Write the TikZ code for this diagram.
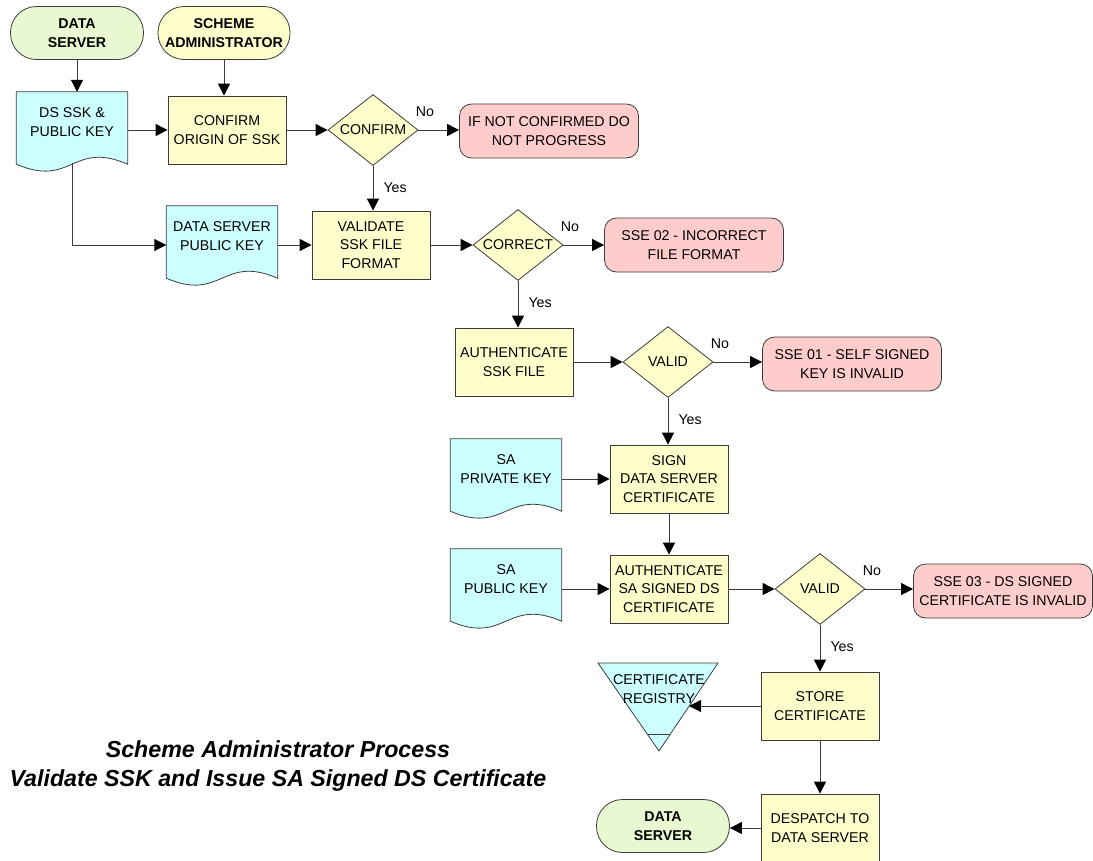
\documentclass[tikz,border=0pt]{standalone}
\usepackage{fontspec}
\setmainfont{Liberation Sans}
\usetikzlibrary{shapes.geometric,arrows.meta,calc,backgrounds}

\definecolor{termgreen}{RGB}{232,248,208}
\definecolor{procyellow}{RGB}{255,255,204}
\definecolor{doccyan}{RGB}{204,255,255}
\definecolor{errpink}{RGB}{255,204,204}
\definecolor{linegrey}{RGB}{60,60,60}

\newcommand{\boxfont}{\fontsize{14.2}{18.7}\selectfont}
\newcommand{\docshape}[1]{%
  \filldraw[docline] (#1.north west) -- (#1.north east)
    -- ($(#1.south east)+(0,12)$)
    .. controls ($(#1.south)+(0,-12)$) and ($(#1.south)+(0,36)$) ..
    ($(#1.south west)+(0,12)$) -- cycle;}

\tikzset{
  term/.style={draw=linegrey, line width=0.8pt, rounded corners=26pt,
    minimum width=133pt, minimum height=53pt, inner sep=2pt,
    align=center, font=\boxfont\bfseries},
  proc/.style={draw=linegrey, line width=0.8pt, fill=procyellow,
    minimum width=118pt, minimum height=68pt, inner sep=1pt,
    align=center, font=\boxfont},
  decide/.style={diamond, draw=linegrey, line width=0.8pt, fill=procyellow,
    aspect=1.27, minimum width=90pt, minimum height=71pt, inner sep=0pt,
    font=\boxfont},
  err/.style={draw=linegrey, line width=0.8pt, fill=errpink, rounded corners=12pt,
    minimum width=179pt, minimum height=54pt, inner sep=1pt,
    align=center, font=\boxfont},
  doc/.style={minimum width=111pt, minimum height=60pt, inner sep=1pt,
    align=center, font=\boxfont},
  docline/.style={draw=linegrey, line width=0.8pt, fill=doccyan},
  arr/.style={draw=linegrey, line width=1pt,
    -{Triangle[length=12pt, width=12pt, color=black]}},
  lbl/.style={font=\boxfont, inner sep=1pt},
  nolbl/.style={lbl, pos=0, anchor=south west, xshift=-4pt, yshift=12pt},
  yeslbl/.style={lbl, pos=0, anchor=west, xshift=9pt, yshift=-22pt}
}

\begin{document}
\begin{tikzpicture}[x=1pt, y=-1pt]

  \useasboundingbox (0,0) rectangle (1093,860);

  % --- terminals ---
  \node[term, fill=termgreen] (dstop) at (77,33) {DATA\\SERVER};
  \node[term, fill=procyellow, minimum width=132pt] (sa) at (224,33) {SCHEME\\ADMINISTRATOR};
  \node[term, fill=termgreen] (dsend) at (663,826) {DATA\\SERVER};

  % --- documents ---
  \node[doc] (dssk) at (72,122) {DS SSK \&\\PUBLIC KEY};
  \node[doc] (dspub) at (222,236) {DATA SERVER\\PUBLIC KEY};
  \node[doc] (saprv) at (506,469) {SA\\PRIVATE KEY};
  \node[doc] (sapub) at (506,579) {SA\\PUBLIC KEY};

  % --- process steps ---
  \node[proc] (origin) at (227,130) {CONFIRM\\ORIGIN OF SSK};
  \node[proc] (validate) at (371,245) {VALIDATE\\SSK FILE\\FORMAT};
  \node[proc] (authssk) at (514,362) {AUTHENTICATE\\SSK FILE};
  \node[proc] (sign) at (669,479) {SIGN\\DATA SERVER\\CERTIFICATE};
  \node[proc] (authsa) at (669,589) {AUTHENTICATE\\SA SIGNED DS\\CERTIFICATE};
  \node[proc] (store) at (820,706) {STORE\\CERTIFICATE};
  \node[proc] (despatch) at (820,828) {DESPATCH TO\\DATA SERVER};

  % --- decisions ---
  \node[decide] (confirm) at (373,130) {CONFIRM};
  \node[decide] (correct) at (518,245) {CORRECT};
  \node[decide] (valid) at (668,362) {VALID};
  \node[decide] (validds) at (820,589) {VALID};

  % --- error ends ---
  \node[err] (noconf) at (549,131) {IF NOT CONFIRMED DO\\NOT PROGRESS};
  \node[err] (sse02) at (694,245) {SSE 02 - INCORRECT\\FILE FORMAT};
  \node[err] (sse01) at (852,364) {SSE 01 - SELF SIGNED\\KEY IS INVALID};
  \node[err] (sse03) at (1003,591) {SSE 03 - DS SIGNED\\CERTIFICATE IS INVALID};

  % --- registry ---
  \node[lbl, align=center, inner sep=0pt] (reg) at (659,689) {CERTIFICATE\\REGISTRY};
  \coordinate (regedge) at ($(reg)+(30,17)$);

  \begin{scope}[on background layer]
    \docshape{dssk}
    \docshape{dspub}
    \docshape{saprv}
    \docshape{sapub}
    \filldraw[docline] ($(reg)+(-61,-26)$) -- ($(reg)+(59,-26)$) -- ($(reg)+(0,62)$) -- cycle;
    \draw[docline] ($(reg)+(-12,45)$) -- ($(reg)+(11,45)$);
  \end{scope}

  % --- title ---
  \node[font=\fontsize{23.2}{29}\selectfont\bfseries\itshape, align=center] (title)
    at (278,766) {Scheme Administrator Process\\Validate SSK and Issue SA Signed DS Certificate};

  % --- connectors ---
  \draw[arr] (dstop.south) -- (dstop.south |- dssk.north);
  \draw[arr] (sa.south) -- (sa.south |- origin.north);
  \draw[arr] (dssk.east |- origin.west) -- (origin.west);
  \draw[arr] (origin.east) -- (confirm.west);
  \draw[arr] (confirm.east) -- (confirm.east -| noconf.west) node[nolbl] {No};
  \draw[arr] (confirm.south) -- (confirm.south |- validate.north) node[yeslbl] {Yes};
  \draw[arr] ($(dssk.south)+(0,11)$) |- (dspub.west |- validate.west);
  \draw[arr] (dspub.east |- validate.west) -- (validate.west);
  \draw[arr] (validate.east) -- (correct.west);
  \draw[arr] (correct.east) -- (correct.east -| sse02.west) node[nolbl] {No};
  \draw[arr] (correct.south) -- (correct.south |- authssk.north) node[yeslbl] {Yes};
  \draw[arr] (authssk.east) -- (valid.west);
  \draw[arr] (valid.east) -- (valid.east -| sse01.west) node[nolbl] {No};
  \draw[arr] (valid.south) -- (valid.south |- sign.north) node[yeslbl] {Yes};
  \draw[arr] (saprv.east |- sign.west) -- (sign.west);
  \draw[arr] (sign.south) -- (authsa.north);
  \draw[arr] (sapub.east |- authsa.west) -- (authsa.west);
  \draw[arr] (authsa.east) -- (validds.west);
  \draw[arr] (validds.east) -- (validds.east -| sse03.west) node[nolbl] {No};
  \draw[arr] (validds.south) -- (store.north) node[yeslbl] {Yes};
  \draw[arr] (store.west) -- (regedge);
  \draw[arr] (store.south) -- (despatch.north);
  \draw[arr] (despatch.west) -- (despatch.west -| dsend.east);

\end{tikzpicture}
\end{document}
